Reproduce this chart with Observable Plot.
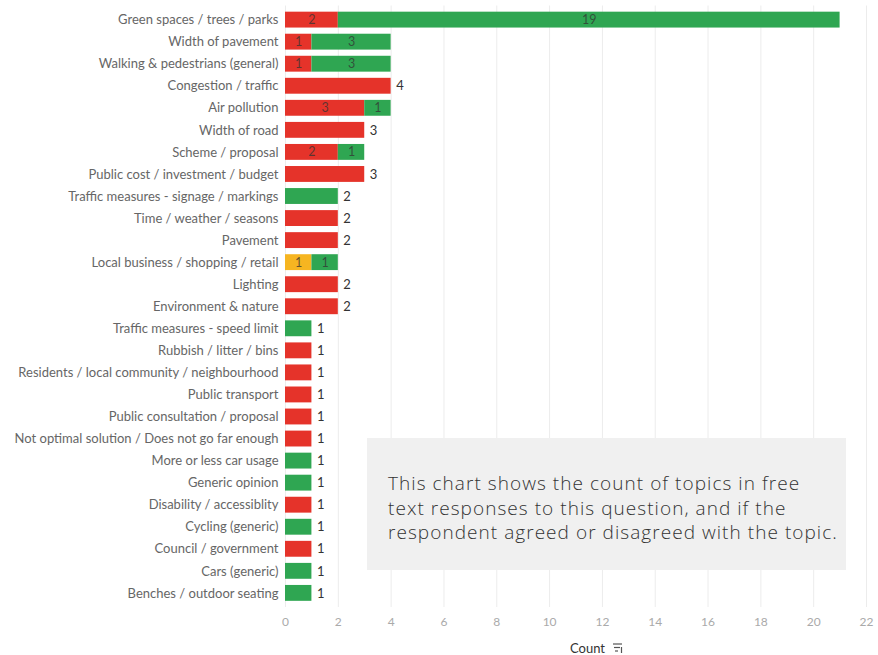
<!DOCTYPE html>
<html><head><meta charset="utf-8">
<script src="https://cdn.jsdelivr.net/npm/d3@7"></script>
<script src="https://cdn.jsdelivr.net/npm/@observablehq/plot@0.6"></script>
<style>
body{margin:0;background:#fff;}
#wrap{position:relative;width:878px;height:655px;overflow:hidden;}
#note{position:absolute;left:367px;top:438px;width:479px;height:132px;background:#f0f0f0;box-sizing:border-box;padding:33px 0 0 21px;font-family:"Open Sans",sans-serif;font-weight:300;font-size:19px;letter-spacing:1.05px;line-height:24.5px;color:#333;white-space:nowrap;}
#xlabel{position:absolute;left:570px;top:642px;font-family:Lato,sans-serif;font-size:13px;line-height:12px;color:#333;}
#sorticon{position:absolute;left:612px;top:642px;}
</style></head>
<body><div id="wrap"><div id="chart"></div>
<div id="note">This chart shows the count of topics in free<br>text responses to this question, and if the<br>respondent agreed or disagreed with the topic.</div>
<div id="xlabel">Count</div>
<svg id="sorticon" width="12" height="12"><g stroke="#555" stroke-width="1.2"><line x1="1" y1="2" x2="10" y2="2"/><line x1="2" y1="5.5" x2="8" y2="5.5"/><line x1="3" y1="9" x2="6" y2="9"/><line x1="9.5" y1="5" x2="9.5" y2="11"/></g></svg>
</div>
<script>
const categories = [
"Green spaces / trees / parks","Width of pavement","Walking & pedestrians (general)","Congestion / traffic","Air pollution","Width of road","Scheme / proposal","Public cost / investment / budget","Traffic measures - signage / markings","Time / weather / seasons","Pavement","Local business / shopping / retail","Lighting","Environment & nature","Traffic measures - speed limit","Rubbish / litter / bins","Residents / local community / neighbourhood","Public transport","Public consultation / proposal","Not optimal solution / Does not go far enough","More or less car usage","Generic opinion","Disability / accessiblity","Cycling (generic)","Council / government","Cars (generic)","Benches / outdoor seating"];
const disagree = [2,1,1,4,3,3,2,3,0,2,2,0,2,2,0,1,1,1,1,1,0,0,1,0,1,0,0];
const neutral  = [0,0,0,0,0,0,0,0,0,0,0,1,0,0,0,0,0,0,0,0,0,0,0,0,0,0,0];
const agree    = [19,3,3,0,1,0,1,0,2,0,0,1,0,0,1,0,0,0,0,0,1,1,0,1,0,1,1];
const seriesNames = ["Disagree","Neutral","Agree"];
const seriesColors = ["#e5332a","#f6b521","#2fa652"];
const xTicks = [0,2,4,6,8,10,12,14,16,18,20,22];

const seriesVals = [disagree, neutral, agree];
const rows = [];
categories.forEach((c,i)=>{
  seriesNames.forEach((s,j)=>{ if(seriesVals[j][i]>0) rows.push({cat:c, series:s, value:seriesVals[j][i]}); });
});
const nSeg = d3.rollup(rows, v=>v.length, d=>d.cat);
const multi = rows.filter(d=>nSeg.get(d.cat)>1);
const single = rows.filter(d=>nSeg.get(d.cat)===1);

const chart = Plot.plot({
  width: 878, height: 655,
  marginLeft: 285, marginRight: 12, marginTop: 5.5, marginBottom: 48,
  style: {fontFamily: "Lato, sans-serif", fontSize: "13px", color: "#666", background: "transparent"},
  x: {domain: [0,22], ticks: xTicks, tickSize: 0, tickPadding: 10, label: null},
  y: {domain: categories, padding: 0.28, round: false, label: null, tickSize: 0, tickPadding: 7},
  color: {domain: seriesNames, range: seriesColors},
  marks: [
    Plot.gridX(xTicks, {stroke: "#ececec", strokeOpacity: 1}),
    Plot.barX(rows, Plot.stackX({x: "value", y: "cat", fill: "series", order: seriesNames})),
    Plot.text(multi, Plot.stackX({x: "value", y: "cat", z: "series", order: seriesNames, text: d=>String(d.value), fill: "#333", fillOpacity: 0.75, fontSize: 12.5})),
    Plot.text(single, {x: "value", y: "cat", text: d=>String(d.value), dx: 5, textAnchor: "start", fill: "#333", fontSize: 13})
  ]
});
d3.select(chart).selectAll("[aria-label='x-axis tick label'] text").attr("fill","#aaa").attr("font-size","12px");
document.getElementById("chart").appendChild(chart);
</script>
</body></html>
